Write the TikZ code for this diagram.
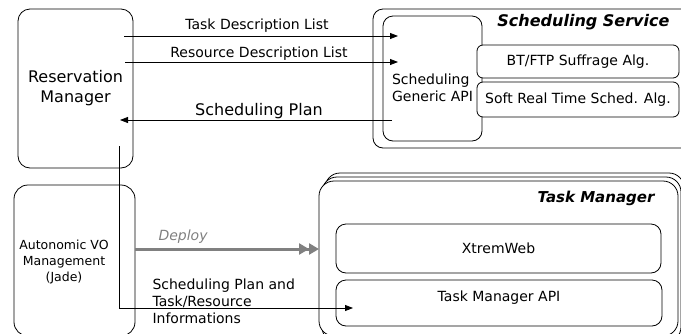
\documentclass[tikz,border=0pt]{standalone}
\usepackage{fontspec}
\setmainfont{DejaVu Sans}
\usetikzlibrary{arrows.meta}
\begin{document}
\begin{tikzpicture}[x=1pt,y=-1pt,
  box/.style={draw, line width=0.8pt, fill=white, rounded corners=#1, inner sep=0pt},
  box/.default=12pt,
  arr/.style={line width=0.8pt, -{Triangle[length=8pt,width=6pt]}},
  deploy/.style={draw=gray, line width=3pt,
    -{Triangle[length=10pt,width=11pt,fill=gray]Triangle[length=10pt,width=11pt,fill=gray]}},
  big/.style={font=\fontsize{16}{20}\selectfont},
  mid/.style={font=\fontsize{14}{17}\selectfont},
  sml/.style={font=\fontsize{12.5}{16}\selectfont},
  title/.style={font=\fontsize{16}{20}\selectfont\bfseries\itshape}
]
\useasboundingbox (0,0) rectangle (681,333);
\clip (0,0) rectangle (681,333);

% Reservation manager
\node[box, big, align=center, minimum width=115pt, minimum height=159pt] (rm) at (75.5,88.5) {Reservation\\Manager};

% Scheduling service
\node[box=10pt, minimum width=327pt, minimum height=139pt] (ss) at (536.5,78.5) {};
\node[title, anchor=east] (sst) at (673,22) {Scheduling Service};
\node[box=10pt, minimum width=99pt, minimum height=125pt] (api) at (432.5,78.5) {};
\node[mid, align=left] (apit) at (432.5,88) {Scheduling\\Generic API};
\node[box=6pt, mid, minimum width=202pt, minimum height=33pt] (bt) at (578,61.5) {BT/FTP Suffrage Alg.};
\node[box=6pt, mid, minimum width=202pt, minimum height=35pt] (srt) at (578,99.5) {Soft Real Time Sched. Alg.};

% Autonomic VO management
\node[box=14pt, minimum width=121pt, minimum height=151pt] (avm) at (74.5,260.5) {};
\node[sml, align=center] (avmt) at (64,262) {Autonomic VO\\Management\\(Jade)};

% Task manager, drawn as a stack of three frames
\node[box=15pt, minimum width=359pt, minimum height=175pt] (tm2) at (504.5,260.5) {};
\node[box=15pt, minimum width=359pt, minimum height=165pt] (tm1) at (501.5,259.5) {};
\node[box=15pt, minimum width=359pt, minimum height=155pt] (tm) at (498.5,258.5) {};
\node[font=\fontsize{15}{18}\selectfont\bfseries\itshape, anchor=east] (tmt) at (658,198) {Task Manager};
\node[box=10pt, mid, minimum width=325pt, minimum height=49pt] (xw) at (498.5,248.5) {XtremWeb};
\node[box=10pt, minimum width=326pt, minimum height=46pt] (tmapi) at (499,303) {};
\node[mid] (tmapit) at (499,298) {Task Manager API};

% connector end points
\coordinate (tdA) at (124,36);   \coordinate (tdB) at (398,36);
\coordinate (rdA) at (125,62);   \coordinate (rdB) at (398,62);
\coordinate (spA) at (392,120);  \coordinate (spB) at (120,120);
\coordinate (plA) at (119,146);  \coordinate (plC) at (119,308);
\coordinate (plB) at (353,308);
\coordinate (dpA) at (135,249);  \coordinate (dpB) at (319,249);

\draw[arr] (tdA) -- (tdB);
\node[mid] (tdl) at (257,26) {Task Description List};
\draw[arr] (rdA) -- (rdB);
\node[mid] (rdl) at (259,54) {Resource Description List};
\draw[arr] (spA) -- (spB);
\node[big] (spl) at (259,111) {Scheduling Plan};

\draw[arr] (plA) -- (plC) -- (plB);
\node[mid, align=left, anchor=north west] (pll) at (149,275) {Scheduling Plan and\\Task/Resource\\Informations};

\draw[deploy] (dpA) -- (dpB);
\node[mid, text=gray, anchor=west, font=\fontsize{14}{17}\selectfont\itshape] (dpl) at (155,237) {Deploy};
\end{tikzpicture}
\end{document}
